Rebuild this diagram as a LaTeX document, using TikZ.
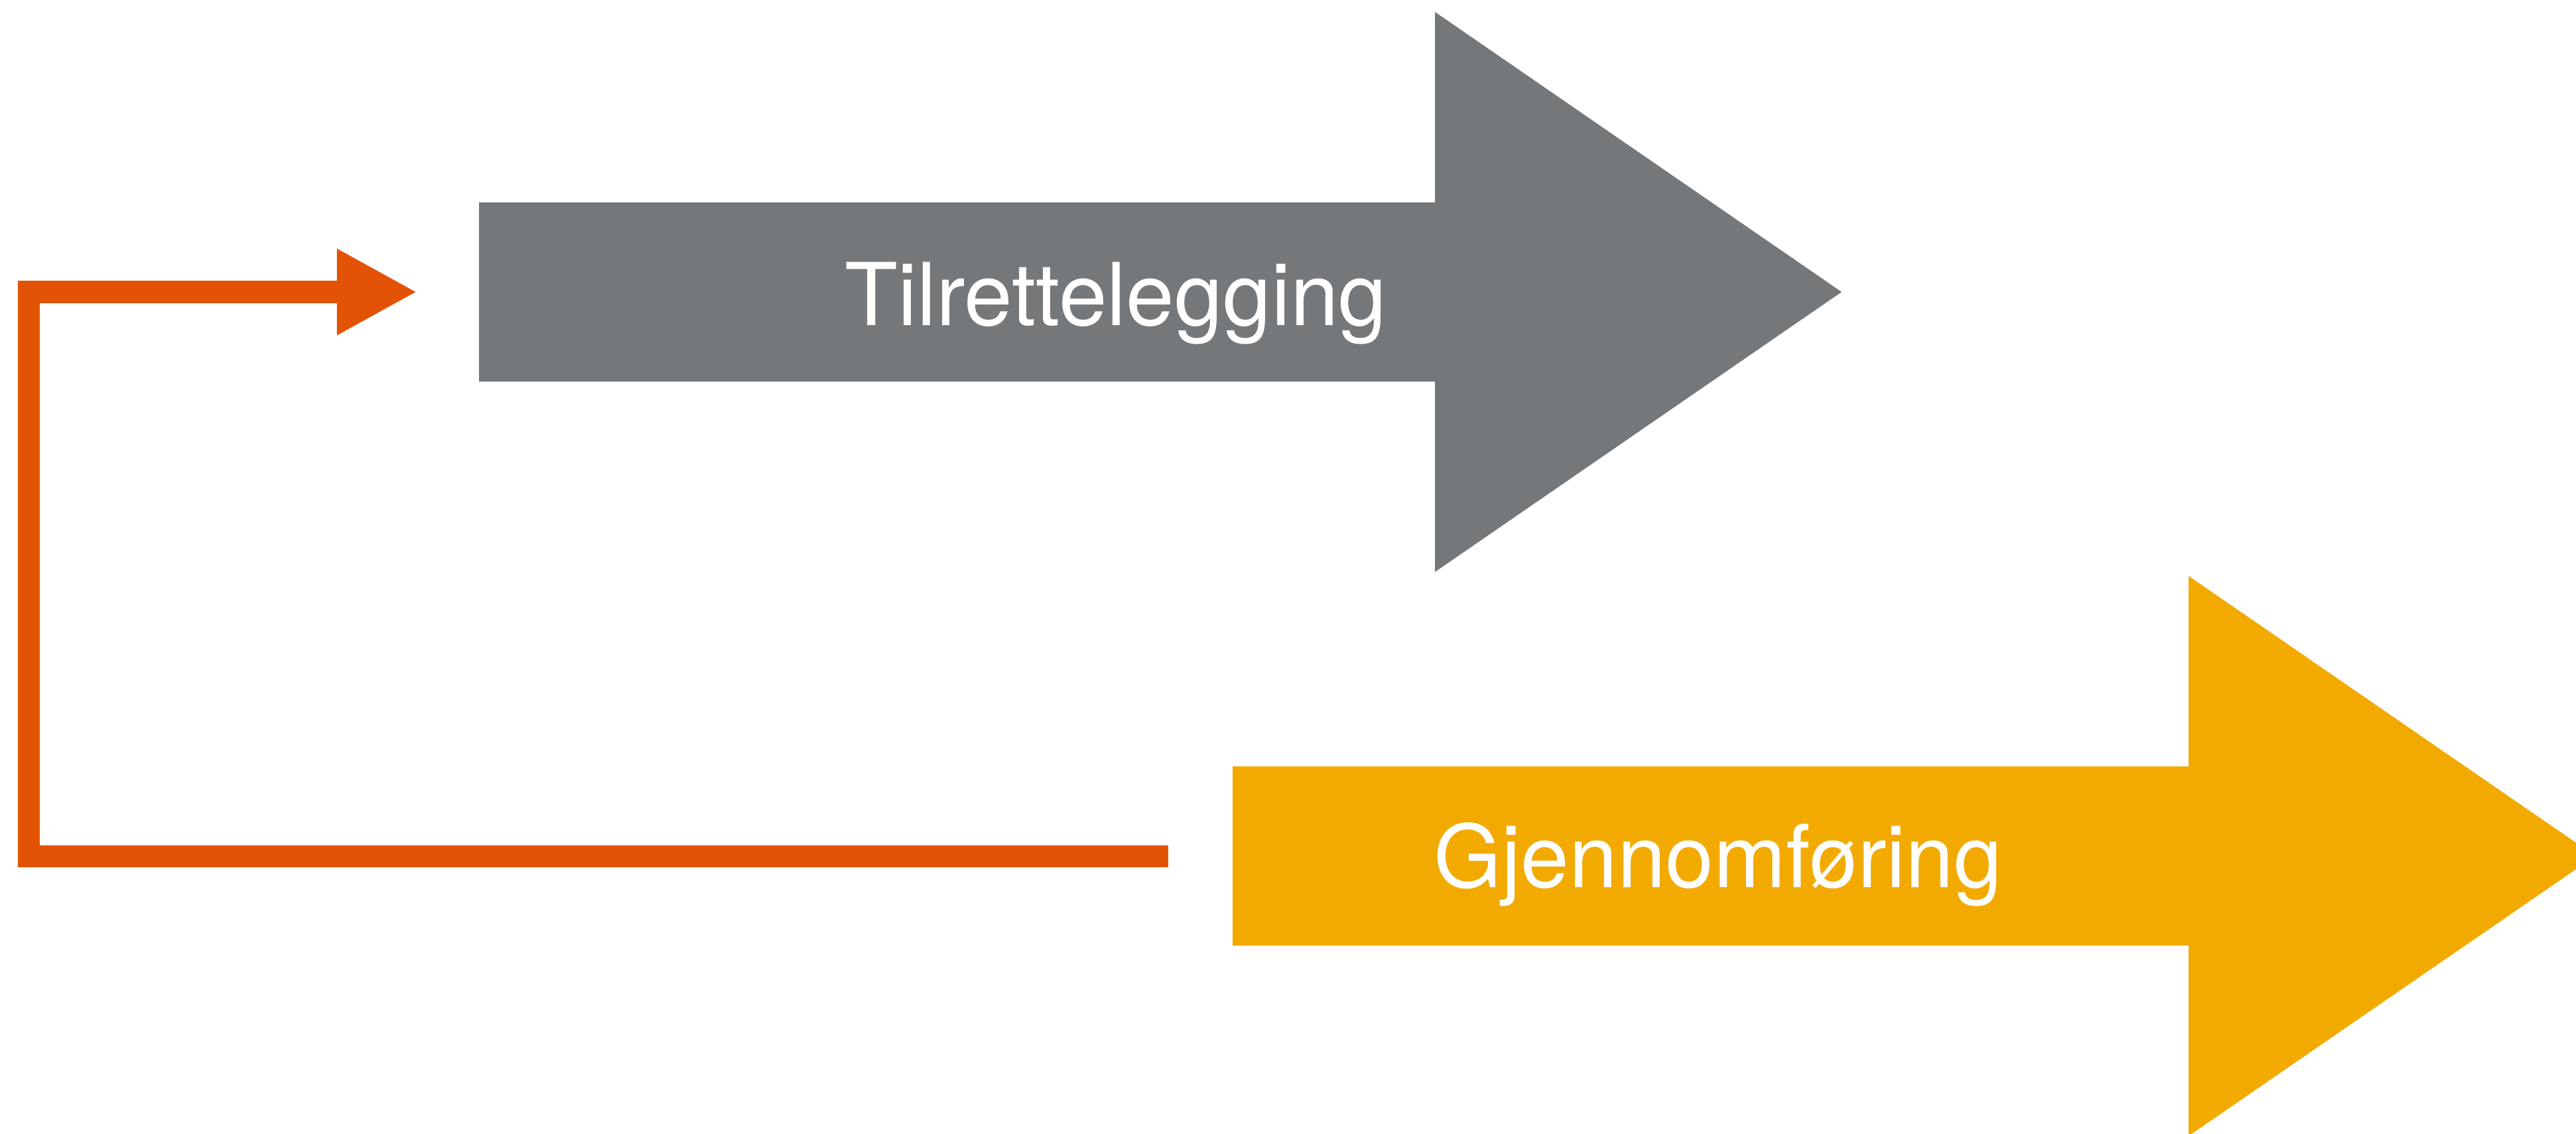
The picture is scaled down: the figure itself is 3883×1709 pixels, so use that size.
\documentclass[tikz,border=0pt]{standalone}
\usepackage{fontspec}
\setmainfont{TeX Gyre Heros}
\usetikzlibrary{arrows.meta}

\definecolor{tilgray}{RGB}{117,120,123}
\definecolor{gjenyellow}{RGB}{242,170,0}
\definecolor{looporange}{RGB}{227,83,5}

\begin{document}
\begin{tikzpicture}[x=0.01cm,y=-0.01cm,
    steplabel/.style={text=white,inner sep=0pt,anchor=base,font=\fontsize{37.2}{44}\selectfont},
    loopline/.style={looporange,line width=0.33cm,line join=miter,
      -{Triangle[length=1.21cm,width=1.21cm]}}]

    % page frame
    \clip (0,0) rectangle (3883,1709);

    % draw big arrows
    \fill[tilgray] (722,305) -- (2163,305) -- (2163,18) -- (2776,440)
      -- (2163,862) -- (2163,575) -- (722,575) -- cycle;
    \fill[gjenyellow] (1858,1155) -- (3299,1155) -- (3299,868) -- (3912,1290)
      -- (3299,1712) -- (3299,1425) -- (1858,1425) -- cycle;

    % draw labels
    \node[steplabel] (tilrett) at (1682,490) {Tilrettelegging};
    \node[steplabel] (gjennom) at (2590,1337) {Gjennomføring};

    % feedback loop
    \coordinate (loopstart) at (1761,1290);
    \coordinate (loopcorner) at (43.5,1290);
    \coordinate (loopend) at (629,440);
    \draw[loopline] (loopstart) -- (loopcorner) |- (loopend);
\end{tikzpicture}
\end{document}
